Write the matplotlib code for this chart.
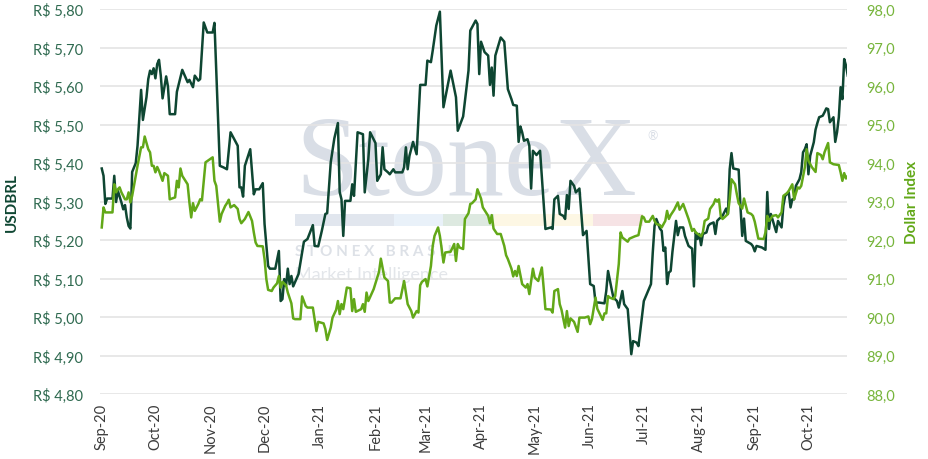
import numpy as np
import pandas as pd
import matplotlib
matplotlib.use("Agg")
import matplotlib.pyplot as plt
import matplotlib.dates as mdates
from matplotlib.patches import Rectangle
from matplotlib.ticker import FuncFormatter

# Day offsets counted from 2020-09-01, and values
START = pd.Timestamp("2020-09-01")

usd_days = [
    0, 1, 2, 3, 6, 7, 8, 9, 11, 12, 13, 14, 15, 16, 17, 19, 20, 22, 23, 25,
    26, 27, 28, 29, 30, 31, 32, 33, 34, 36, 37, 38, 41, 42, 45, 48, 49, 51, 52, 54,
    55, 57, 59, 62, 63, 66, 68, 70, 72, 76, 77, 78, 79, 80, 83, 85, 86, 88, 90, 91,
    93, 94, 97, 99, 100, 101, 102, 103, 104, 105, 106, 107, 110, 113, 115, 118, 119, 121, 123, 125,
    126, 128, 130, 132, 133, 134, 135, 136, 139, 140, 141, 143, 146, 147, 149, 150, 153, 154, 156, 157,
    158, 160, 161, 163, 164, 168, 169, 170, 171, 172, 174, 176, 178, 181, 182, 184, 185, 187, 189, 191,
    195, 198, 199, 202, 205, 206, 209, 210, 211, 212, 214, 216, 217, 218, 219, 220, 223, 225, 227, 229,
    230, 232, 233, 234, 235, 236, 238, 239, 240, 241, 243, 245, 248, 251, 252, 253, 255, 256, 258, 259,
    260, 261, 262, 264, 265, 267, 269, 271, 273, 275, 276, 278, 281, 282, 283, 285, 286, 288, 289, 291,
    292, 294, 295, 296, 297, 299, 300, 303, 305, 307, 308, 309, 310, 312, 313, 314, 315, 316, 317, 318,
    319, 321, 322, 323, 325, 326, 328, 330, 331, 332, 333, 334, 335, 336, 338, 339, 340, 342, 343, 344,
    345, 347, 349, 350, 351, 352, 353, 356, 357, 358, 359, 360, 363, 364, 365, 366, 369, 371, 372, 373,
    374, 376, 377, 378, 380, 381, 382, 384, 385, 386, 387, 388, 390, 391, 392, 393, 394, 395, 396, 398,
    399, 400, 401, 403, 404, 405, 406, 407, 409, 410, 411, 412, 413, 414, 415, 416, 417,
]
usd_values = [
    5.386, 5.367, 5.294, 5.308, 5.308, 5.367, 5.299, 5.328, 5.298, 5.280, 5.291, 5.259, 5.237, 5.230, 5.377, 5.400, 5.445, 5.590, 5.512, 5.571,
    5.618, 5.640, 5.631, 5.646, 5.620, 5.657, 5.668, 5.627, 5.568, 5.625, 5.599, 5.527, 5.527, 5.585, 5.642, 5.610, 5.616, 5.597, 5.627, 5.614,
    5.618, 5.765, 5.739, 5.739, 5.764, 5.393, 5.389, 5.384, 5.480, 5.445, 5.337, 5.337, 5.313, 5.393, 5.436, 5.319, 5.332, 5.332, 5.348, 5.242,
    5.133, 5.126, 5.126, 5.172, 5.042, 5.047, 5.099, 5.081, 5.126, 5.086, 5.107, 5.080, 5.112, 5.196, 5.203, 5.239, 5.185, 5.184, 5.224, 5.268,
    5.270, 5.402, 5.464, 5.504, 5.325, 5.306, 5.211, 5.302, 5.302, 5.345, 5.315, 5.480, 5.475, 5.324, 5.410, 5.480, 5.452, 5.354, 5.371, 5.441,
    5.384, 5.376, 5.371, 5.384, 5.376, 5.376, 5.389, 5.441, 5.384, 5.419, 5.455, 5.423, 5.603, 5.603, 5.666, 5.662, 5.692, 5.757, 5.793, 5.545,
    5.640, 5.571, 5.484, 5.521, 5.640, 5.744, 5.770, 5.761, 5.631, 5.715, 5.688, 5.679, 5.603, 5.648, 5.575, 5.679, 5.726, 5.715, 5.592, 5.566,
    5.551, 5.549, 5.455, 5.495, 5.480, 5.458, 5.462, 5.445, 5.334, 5.432, 5.421, 5.432, 5.229, 5.233, 5.229, 5.306, 5.315, 5.268, 5.263, 5.255,
    5.317, 5.281, 5.354, 5.341, 5.324, 5.334, 5.213, 5.224, 5.086, 5.081, 5.038, 5.038, 5.036, 5.068, 5.120, 5.073, 5.051, 5.042, 5.025, 5.068,
    5.034, 5.021, 4.964, 4.904, 4.938, 4.934, 4.925, 5.042, 5.064, 5.086, 5.168, 5.237, 5.255, 5.230, 5.224, 5.172, 5.181, 5.086, 5.116, 5.120,
    5.170, 5.250, 5.213, 5.233, 5.233, 5.211, 5.185, 5.178, 5.080, 5.220, 5.203, 5.216, 5.187, 5.216, 5.220, 5.237, 5.242, 5.246, 5.216, 5.250,
    5.255, 5.263, 5.282, 5.268, 5.384, 5.426, 5.386, 5.383, 5.289, 5.211, 5.256, 5.198, 5.190, 5.184, 5.171, 5.185, 5.181, 5.175, 5.325, 5.229,
    5.268, 5.237, 5.221, 5.250, 5.233, 5.289, 5.315, 5.324, 5.285, 5.306, 5.306, 5.341, 5.358, 5.377, 5.428, 5.436, 5.449, 5.371, 5.419, 5.454,
    5.487, 5.504, 5.519, 5.523, 5.532, 5.542, 5.540, 5.506, 5.519, 5.455, 5.480, 5.519, 5.597, 5.566, 5.670, 5.653, 5.627,
]

dxy_days = [
    0, 1, 2, 6, 7, 8, 9, 10, 11, 13, 14, 15, 16, 17, 20, 22, 23, 24, 26, 27,
    28, 29, 30, 31, 32, 34, 35, 37, 38, 41, 42, 43, 44, 45, 48, 49, 50, 51, 52, 54,
    55, 56, 58, 62, 63, 64, 66, 67, 69, 70, 71, 72, 74, 76, 77, 78, 80, 82, 84, 85,
    86, 87, 90, 91, 92, 93, 95, 96, 98, 99, 100, 101, 103, 104, 106, 107, 108, 111, 112, 114,
    115, 118, 119, 120, 121, 124, 125, 126, 128, 129, 131, 132, 133, 134, 135, 137, 139, 140, 141, 142,
    145, 146, 147, 148, 149, 152, 154, 155, 156, 158, 160, 161, 162, 164, 167, 169, 171, 173, 174, 176,
    177, 178, 179, 181, 182, 184, 185, 186, 188, 189, 190, 191, 192, 195, 197, 198, 199, 200, 202, 203,
    205, 206, 207, 209, 210, 212, 213, 216, 217, 218, 219, 221, 223, 225, 226, 227, 229, 230, 231, 232,
    233, 235, 237, 238, 239, 241, 242, 244, 246, 247, 248, 251, 252, 253, 255, 256, 257, 259, 260, 261,
    262, 264, 266, 267, 270, 272, 273, 274, 276, 277, 279, 280, 281, 282, 283, 284, 286, 287, 289, 290,
    291, 294, 295, 298, 300, 302, 303, 304, 306, 308, 309, 310, 312, 313, 315, 316, 317, 318, 320, 322,
    323, 325, 326, 328, 330, 331, 332, 335, 336, 337, 339, 340, 342, 343, 344, 345, 346, 347, 348, 350,
    351, 352, 354, 355, 356, 358, 359, 361, 363, 364, 365, 367, 370, 371, 372, 373, 375, 377, 378, 380,
    381, 383, 384, 386, 387, 389, 390, 391, 393, 394, 395, 397, 399, 400, 402, 403, 404, 406, 407, 409,
    412, 413, 414, 415, 416, 417,
]
dxy_values = [
    92.33, 92.85, 92.72, 92.72, 93.45, 93.24, 93.32, 93.37, 93.24, 93.06, 93.06, 93.24, 92.98, 93.15, 93.93, 94.41, 94.41, 94.69, 94.36, 94.28,
    93.93, 93.93, 93.76, 93.90, 93.80, 93.54, 93.74, 93.67, 93.06, 93.11, 93.54, 93.37, 93.86, 93.67, 93.45, 92.98, 92.59, 92.96, 92.76, 92.94,
    93.06, 93.03, 94.02, 94.15, 93.54, 93.41, 92.48, 92.68, 92.89, 92.96, 93.05, 92.85, 92.91, 92.81, 92.55, 92.44, 92.55, 92.73, 92.50, 92.20,
    91.94, 91.85, 91.84, 91.51, 90.99, 90.71, 90.68, 90.77, 90.88, 91.07, 90.77, 90.92, 90.83, 90.64, 90.36, 89.97, 89.95, 89.95, 90.54, 90.29,
    90.25, 90.25, 89.95, 89.64, 89.88, 89.84, 89.69, 89.41, 89.73, 89.99, 90.19, 90.42, 90.08, 90.34, 90.21, 90.77, 90.75, 90.16, 90.47, 90.14,
    90.21, 90.34, 90.14, 90.64, 90.42, 90.73, 91.03, 91.18, 91.52, 91.03, 90.94, 90.38, 90.38, 90.49, 90.49, 90.94, 90.34, 90.16, 89.99, 90.16,
    90.12, 90.83, 90.92, 90.99, 90.80, 91.33, 91.85, 92.11, 92.33, 92.11, 91.78, 91.42, 91.68, 91.70, 91.90, 91.46, 91.90, 91.81, 91.77, 92.55,
    92.70, 92.94, 92.96, 93.06, 93.32, 93.08, 92.85, 92.63, 92.44, 92.65, 92.30, 92.16, 92.16, 91.85, 91.61, 91.51, 91.26, 91.06, 91.20, 91.07,
    91.33, 90.86, 90.77, 90.86, 90.60, 91.26, 91.03, 90.94, 91.29, 90.77, 90.21, 90.20, 90.12, 90.68, 90.73, 90.34, 90.19, 89.73, 90.16, 89.77,
    89.97, 89.88, 89.62, 89.99, 89.99, 90.02, 89.82, 89.95, 90.51, 90.22, 90.03, 89.93, 90.10, 90.10, 90.55, 90.51, 90.47, 90.55, 91.38, 92.20,
    92.07, 91.96, 92.04, 92.10, 92.13, 92.62, 92.59, 92.48, 92.48, 92.63, 92.50, 92.42, 92.39, 92.33, 92.50, 92.76, 92.55, 92.65, 92.79, 92.98,
    92.79, 92.94, 92.81, 92.55, 92.24, 92.29, 92.20, 92.10, 92.20, 92.50, 92.56, 92.81, 92.94, 93.06, 93.00, 93.06, 92.63, 92.55, 92.59, 92.68,
    93.06, 93.58, 93.45, 93.19, 92.96, 92.82, 93.08, 92.72, 92.68, 92.63, 92.48, 92.04, 92.03, 92.20, 92.63, 92.50, 92.63, 92.65, 92.59, 92.72,
    93.15, 93.22, 93.28, 93.45, 93.06, 93.37, 93.34, 93.41, 93.89, 94.36, 94.06, 93.89, 93.77, 94.26, 94.21, 94.10, 94.28, 94.52, 94.02, 93.97,
    93.95, 93.76, 93.54, 93.74, 93.60, 93.67,
]

usd_ticks = np.round(np.arange(4.80, 5.801, 0.10), 2)
dxy_ticks = np.arange(88, 99, 1)

DARK = "#0e4632"
LIGHT = "#62a818"
FONT = ["Lato", "DejaVu Sans"]

plt.rcParams["font.family"] = FONT

usd_dates = START + pd.to_timedelta(usd_days, unit="D")
dxy_dates = START + pd.to_timedelta(dxy_days, unit="D")

fig = plt.figure(figsize=(9.29, 4.6), dpi=100)
ax = fig.add_axes([0.1076, 0.1407, 0.804, 0.8376])
ax.set_facecolor("none")

# faint StoneX watermark behind the lines
wm_color = "#d9dee6"
ax.text(0.3175, 0.575, "StoneX", transform=fig.transFigure, family="Liberation Serif",
        fontsize=82, color=wm_color, ha="left", va="baseline", zorder=0.2)
ax.text(0.697, 0.705, "\u00ae", transform=fig.transFigure, fontsize=9, color=wm_color,
        ha="left", va="center", zorder=0.2)
bands = [(295, 394, "#e1e6ee"), (394, 443, "#e9f1f9"), (443, 494, "#dde9e0"),
         (494, 593, "#fdf7e4"), (593, 643, "#f6e3e5")]
for x0, x1, c in bands:
    ax.add_patch(Rectangle((x0 / 929, 1 - 227 / 460), (x1 - x0) / 929, 12 / 460,
                           transform=fig.transFigure, facecolor=c, edgecolor="none",
                           zorder=0.2))
ax.text(0.3175, 1 - 252 / 460, "S T O N E X   B R A S I L", transform=fig.transFigure,
        fontsize=11, fontweight="bold", color="#dde1e7", ha="left", va="center", zorder=0.2)
ax.text(0.3175, 1 - 275 / 460, "Market Intelligence", transform=fig.transFigure,
        fontsize=13, color="#e3e6ea", ha="left", va="center", zorder=0.2)

ax.plot(usd_dates, usd_values, color=DARK, linewidth=1.8, zorder=3)
ax.set_ylim(4.80, 5.80)
ax.set_yticks(usd_ticks)
ax.yaxis.set_major_formatter(FuncFormatter(lambda v, p: "R$ " + f"{v:.2f}".replace(".", ",")))
ax.grid(axis="y", color="#e4e4e4", linewidth=1.2)
ax.set_axisbelow(True)

ax.set_xlim(START - pd.Timedelta(days=1), START + pd.Timedelta(days=416.5))
ax.xaxis.set_major_locator(mdates.MonthLocator())
ax.xaxis.set_major_formatter(mdates.DateFormatter("%b-%y"))
for lab in ax.get_xticklabels():
    lab.set_rotation(90)

ax2 = ax.twinx()
ax2.plot(dxy_dates, dxy_values, color=LIGHT, linewidth=1.8, zorder=3)
ax2.set_ylim(88, 98)
ax2.set_yticks(dxy_ticks)
ax2.yaxis.set_major_formatter(FuncFormatter(lambda v, p: f"{v:.1f}".replace(".", ",")))

for a in (ax, ax2):
    for s in a.spines.values():
        s.set_visible(False)

ax.tick_params(axis="x", length=0, pad=6, labelsize=10.5, labelcolor="#3c3c3c")
ax.tick_params(axis="y", length=0, pad=12, labelsize=10.5, labelcolor="#2f6a50")
ax2.tick_params(axis="y", length=0, pad=14, labelsize=10.5, labelcolor="#77b53c")

ax.set_ylabel("USDBRL", fontsize=11, fontweight="bold", color=DARK)
ax.yaxis.set_label_coords(-0.109, 0.5)
ax2.set_ylabel("Dollar Index", fontsize=11, fontweight="bold", color=LIGHT)
ax2.yaxis.set_label_coords(1.078, 0.5)

fig.savefig("out.png", dpi=100)
